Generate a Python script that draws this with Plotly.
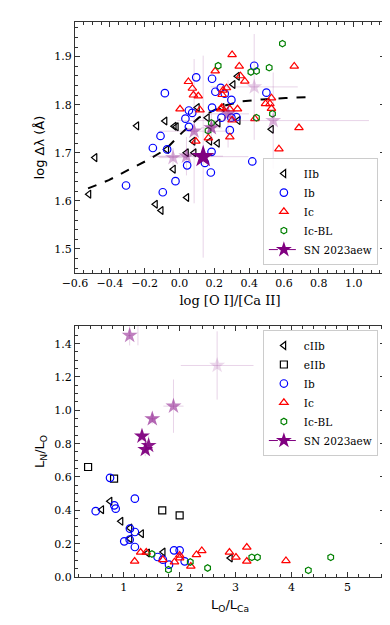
import plotly.graph_objects as go

# ---- top panel: log dlambda vs log [O I]/[Ca II]
iib_x = [-0.52, -0.485, -0.245, -0.083, -0.03, -0.018, -0.138, -0.105, -0.035, 0.042, -0.073, 0.04,
         0.084, 0.078, 0.174, 0.218, 0.103, 0.16, 0.222, 0.245, 0.308, 0.333, 0.337, 0.528]
iib_y = [1.614, 1.690, 1.756, 1.766, 1.755, 1.754, 1.593, 1.580, 1.666, 1.607, 1.707, 1.700,
         1.700, 1.724, 1.724, 1.720, 1.794, 1.773, 1.762, 1.794, 1.842, 1.859, 1.767, 1.749]

ib_x = [-0.307, -0.153, -0.109, -0.071, -0.096, -0.023, -0.084, 0.034, 0.044, 0.054, 0.054, 0.073,
        0.096, 0.146, 0.18, 0.184, 0.187, 0.187, 0.206, 0.237, 0.26, 0.298, 0.241, 0.298, 0.327,
        0.289, 0.418, 0.429, 0.499]
ib_y = [1.632, 1.710, 1.735, 1.707, 1.618, 1.641, 1.824, 1.771, 1.674, 1.788, 1.754, 1.783,
        1.857, 1.679, 1.659, 1.702, 1.794, 1.854, 1.827, 1.835, 1.823, 1.810, 1.773, 1.773, 1.774,
        1.747, 1.682, 1.881, 1.825]

ic_x = [0.302, 0.343, 0.205, 0.659, 0.35, 0.375, 0.051, 0.074, 0.08, 0.108, 0.245, 0.25, 0.003,
        0.118, 0.237, 0.289, 0.333, 0.494, 0.519, 0.528, 0.528, 0.433, 0.302, 0.686, 0.289, 0.094,
        0.166, 0.571, 0.243, 0.27]
ic_y = [1.904, 1.880, 1.870, 1.880, 1.860, 1.849, 1.848, 1.834, 1.820, 1.818, 1.821, 1.830, 1.791,
        1.789, 1.791, 1.791, 1.791, 1.802, 1.802, 1.814, 1.792, 1.771, 1.768, 1.752, 1.733, 1.724,
        1.731, 1.708, 1.794, 1.835]

icbl_x = [0.591, 0.222, 0.41, 0.442, 0.515, 0.442, 0.534, 0.183, 0.164]
icbl_y = [1.927, 1.881, 1.868, 1.870, 1.877, 1.773, 1.781, 1.762, 1.746]

model_x = [-0.525, -0.406, -0.291, -0.176, -0.08, 0.015, 0.111, 0.245, 0.36, 0.475, 0.609, 0.743]
model_y = [1.626, 1.643, 1.665, 1.686, 1.707, 1.742, 1.773, 1.797, 1.807, 1.811, 1.814, 1.816]

sn_top_x = [-0.037, 0.04, 0.084, 0.183, 0.279, 0.429, 0.538, 0.136]
sn_top_y = [1.690, 1.693, 1.745, 1.752, 1.781, 1.837, 1.767, 1.692]
sn_top_xerr = [0.08, 0.21, 0.2, 0.06, 0.12, 0.25, 0.55, 0.26]
sn_top_yerr = [0.02, 0.04, 0.15, 0.03, 0.07, 0.11, 0.10, 0.21]
sn_top_alpha = [0.3, 0.4, 0.45, 0.6, 0.5, 0.2, 0.3, 1.0]

# ---- bottom panel: L_N/L_O vs L_O/L_Ca
ciib_x = [0.608, 0.756, 0.952, 1.112, 1.112, 1.32, 1.428, 1.706, 2.907]
ciib_y = [0.404, 0.455, 0.334, 0.294, 0.23, 0.26, 0.144, 0.15, 0.114]

eiib_x = [0.364, 0.828, 1.689, 2.0]
eiib_y = [0.66, 0.59, 0.40, 0.37]

ib2_x = [0.50, 0.756, 0.832, 0.857, 1.2, 1.112, 1.2, 1.01, 1.107, 1.2, 1.606, 1.7, 1.81, 1.9, 2.0, 2.09]
ib2_y = [0.395, 0.595, 0.43, 0.41, 0.47, 0.29, 0.27, 0.214, 0.224, 0.18, 0.12, 0.104, 0.074, 0.16,
         0.16, 0.094]

ic2_x = [1.196, 1.303, 1.404, 1.7, 1.908, 2.0, 2.0, 2.2, 2.3, 2.396, 2.89, 3.007, 3.2, 3.2, 3.9]
ic2_y = [0.094, 0.148, 0.148, 0.104, 0.09, 0.13, 0.114, 0.064, 0.134, 0.158, 0.148, 0.118, 0.178,
         0.094, 0.098]

icbl2_x = [1.505, 1.8, 2.19, 2.5, 3.29, 3.39, 4.3, 4.7]
icbl2_y = [0.138, 0.044, 0.09, 0.054, 0.118, 0.118, 0.04, 0.118]

sn_bot_x = [1.255, 1.107, 2.67, 1.89, 1.511, 1.327, 1.446, 1.386]
sn_bot_y = [1.62, 1.449, 1.269, 1.025, 0.949, 0.845, 0.789, 0.765]
sn_bot_xerr = [0.0, 0.03, 0.65, 0.18, 0.05, 0.03, 0.04, 0.04]
sn_bot_yerr = [0.23, 0.06, 0.205, 0.16, 0.03, 0.03, 0.06, 0.04]
sn_bot_alpha = [0.5, 0.5, 0.15, 0.5, 0.6, 0.95, 0.9, 0.95]

SERIF = "DejaVu Serif"
SANS = "DejaVu Sans"
PURPLE = "#800080"
ERRC = "rgba(150,60,150,0.22)"

fig = go.Figure()


def pts(x, y, name, symbol, color, size, xa, ya, legend, show=True):
    fig.add_trace(go.Scatter(
        x=x, y=y, mode="markers", name=name, xaxis=xa, yaxis=ya, legend=legend,
        showlegend=show,
        marker=dict(symbol=symbol, size=size, color=color, line=dict(color=color, width=1.2)),
    ))


def stars(x, y, xerr, yerr, alpha, xa, ya, legend, big_last):
    for i in range(len(x)):
        big = big_last and i == len(x) - 1
        fig.add_trace(go.Scatter(
            x=[x[i]], y=[y[i]], mode="markers", xaxis=xa, yaxis=ya, legend=legend,
            showlegend=False,
            error_x=dict(type="data", array=[xerr[i]], color=ERRC, thickness=1, width=0),
            error_y=dict(type="data", array=[yerr[i]], color=ERRC, thickness=1, width=0),
            marker=dict(symbol="star", size=17 if big else 12, color=PURPLE,
                        opacity=alpha[i], line=dict(width=0)),
        ))
    fig.add_trace(go.Scatter(
        x=[None], y=[None], mode="lines+markers", name="SN 2023aew", xaxis=xa, yaxis=ya,
        legend=legend, line=dict(color=PURPLE, dash="dash", width=1),
        marker=dict(symbol="star", size=12, color=PURPLE),
    ))


# top
fig.add_trace(go.Scatter(x=model_x, y=model_y, mode="lines", showlegend=False,
                         line=dict(color="black", dash="dash", width=2), xaxis="x", yaxis="y"))
pts(iib_x, iib_y, "IIb", "triangle-left-open", "black", 7, "x", "y", "legend")
pts(ib_x, ib_y, "Ib", "circle-open", "blue", 7.5, "x", "y", "legend")
pts(ic_x, ic_y, "Ic", "triangle-up-open", "red", 7.5, "x", "y", "legend")
pts(icbl_x, icbl_y, "Ic-BL", "hexagon-open", "green", 6.5, "x", "y", "legend")
stars(sn_top_x, sn_top_y, sn_top_xerr, sn_top_yerr, sn_top_alpha, "x", "y", "legend", True)

# bottom
pts(ciib_x, ciib_y, "cIIb", "triangle-left-open", "black", 7, "x2", "y2", "legend2")
pts(eiib_x, eiib_y, "eIIb", "square-open", "black", 7, "x2", "y2", "legend2")
pts(ib2_x, ib2_y, "Ib", "circle-open", "blue", 7.5, "x2", "y2", "legend2")
pts(ic2_x, ic2_y, "Ic", "triangle-up-open", "red", 7.5, "x2", "y2", "legend2")
pts(icbl2_x, icbl2_y, "Ic-BL", "hexagon-open", "green", 6.5, "x2", "y2", "legend2")
stars(sn_bot_x, sn_bot_y, sn_bot_xerr, sn_bot_yerr, sn_bot_alpha, "x2", "y2", "legend2", False)

tickfont = dict(family=SERIF, size=11, color="black")


def axis(rng, dtick, minor, domain, anchor, title, tfont, fmt=None):
    d = dict(range=rng, dtick=dtick, domain=domain, anchor=anchor, showgrid=False,
             zeroline=False, showline=True, linecolor="#333", linewidth=1.3, mirror="ticks",
             ticks="inside", ticklen=5, tickwidth=1, tickcolor="#333", tickfont=tickfont,
             minor=dict(ticks="inside", ticklen=3, dtick=minor, tickcolor="#333", showgrid=False),
             title=dict(text=title, font=tfont, standoff=6))
    if fmt:
        d["tickformat"] = fmt
    return d


legfont = dict(family=SERIF, size=10.5, color="black")

fig.update_layout(
    width=390, height=625,
    margin=dict(l=67, r=13, t=14, b=56),
    paper_bgcolor="white", plot_bgcolor="white",
    xaxis=axis([-0.6, 1.18], 0.2, 0.05, [0, 1], "y", "log [O I]/[Ca II]",
               dict(family=SERIF, size=13, color="black"), ".1f"),
    yaxis=axis([1.45, 1.972], 0.1, 0.02, [0.5477, 1], "x", "log Δλ (Å)",
               dict(family=SANS, size=13, color="black"), ".1f"),
    xaxis2=axis([0.13, 5.67], 1, 0.2, [0, 1], "y2", "L<sub>O</sub>/L<sub>Ca</sub>",
                dict(family=SANS, size=13, color="black")),
    yaxis2=axis([0, 1.506], 0.2, 0.05, [0, 0.4523], "x2", "L<sub>N</sub>/L<sub>O</sub>",
                dict(family=SANS, size=13, color="black"), ".1f"),
    legend=dict(x=0.977, y=0.562, xanchor="right", yanchor="bottom",
                bgcolor="rgba(255,255,255,0.85)", bordercolor="#ccc", borderwidth=1,
                font=legfont, tracegroupgap=0, itemwidth=30),
    legend2=dict(x=0.977, y=0.445, xanchor="right", yanchor="top",
                 bgcolor="rgba(255,255,255,0.85)", bordercolor="#ccc", borderwidth=1,
                 font=legfont, tracegroupgap=0, itemwidth=30),
)

fig.write_html("out.html")
